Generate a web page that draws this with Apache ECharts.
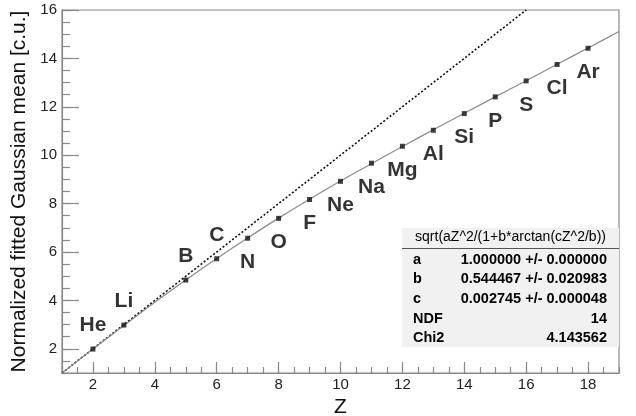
<!DOCTYPE html>
<html>
<head>
<meta charset="utf-8">
<script src="https://cdn.jsdelivr.net/npm/echarts@6/dist/echarts.min.js"></script>
<style>
  html, body { margin: 0; padding: 0; background: #ffffff; }
  #chart { width: 636px; height: 416px; }
</style>
</head>
<body>
<div id="chart"></div>
<script>
// Measured Gaussian means per element
const elements = ['He', 'Li', 'B', 'C', 'N', 'O', 'F', 'Ne', 'Na', 'Mg', 'Al', 'Si', 'P', 'S', 'Cl', 'Ar'];
const charges  = [2, 3, 5, 6, 7, 8, 9, 10, 11, 12, 13, 14, 15, 16, 17, 18];
const means    = [1.99, 2.98, 4.84, 5.72, 6.57, 7.39, 8.17, 8.92, 9.67, 10.37, 11.03, 11.72, 12.41, 13.07, 13.75, 14.42];

// Fitted curve sqrt(aZ^2/(1+b*arctan(cZ^2/b))) sampled at integer Z
const fitZ = [1, 2, 3, 4, 5, 6, 7, 8, 9, 10, 11, 12, 13, 14, 15, 16, 17, 18, 19];
const fitY = [1.00, 1.99, 2.96, 3.92, 4.84, 5.73, 6.58, 7.40, 8.18, 8.93, 9.65, 10.36, 11.05, 11.73, 12.41, 13.08, 13.76, 14.43, 15.11];

// Reference line y = Z
const diagZ = [1, 16];
const diagY = [1, 16];

// Axis tick labels
const xTicks = [2, 4, 6, 8, 10, 12, 14, 16, 18];
const yTicks = [2, 4, 6, 8, 10, 12, 14, 16];

// Fit statistics box
const statTitle = 'sqrt(aZ^2/(1+b*arctan(cZ^2/b))';
const statNames = ['a', 'b', 'c', 'NDF', 'Chi2'];
const statValues = ['1.000000 +/- 0.000000', '0.544467 +/- 0.020983', '0.002745 +/- 0.000048', '14', '4.143562'];

const FONT = '"Liberation Sans", Arial, Helvetica, sans-serif';
const AXIS_GRAY = '#8a8a8a';

const chart = echarts.init(document.getElementById('chart'), null, { renderer: 'canvas' });

function minorAxis(min, max, len, extra) {
  return Object.assign({
    type: 'value', min: min, max: max, interval: 0.5,
    axisLine: { show: true, lineStyle: { color: AXIS_GRAY, width: 1.2 } },
    axisTick: { show: true, inside: true, length: len, lineStyle: { color: AXIS_GRAY, width: 1.2 } },
    splitLine: { show: false },
    axisLabel: { show: false }
  }, extra || {});
}

// Light elements get their name above the point, heavier ones below
const pointData = charges.map((z, i) => ({
  value: [z, means[i]],
  name: elements[i],
  label: { offset: [0, z <= 6 ? -24 : 24] }
}));

const statGraphics = [];
const boxL = 402, boxR = 619, boxT = 228, boxB = 347;
statGraphics.push({ type: 'rect', shape: { x: boxL, y: boxT, width: boxR - boxL, height: boxB - boxT }, style: { fill: '#f1f1f1' }, z: 10 });
statGraphics.push({ type: 'line', shape: { x1: boxL, y1: 248.5, x2: boxR, y2: 248.5 }, style: { stroke: '#555', lineWidth: 1 }, z: 11 });
statGraphics.push({ type: 'text', x: (boxL + boxR) / 2, y: 237, style: { text: statTitle, font: '14px ' + FONT, fill: '#000', align: 'center', verticalAlign: 'middle' }, z: 11 });
statNames.forEach((n, i) => {
  const y = 259.5 + i * 19.7;
  statGraphics.push({ type: 'text', x: 413, y: y, style: { text: n, font: 'bold 14.5px ' + FONT, fill: '#000', align: 'left', verticalAlign: 'middle' }, z: 11 });
  statGraphics.push({ type: 'text', x: 607, y: y, style: { text: statValues[i], font: 'bold 14.5px ' + FONT, fill: '#000', align: 'right', verticalAlign: 'middle' }, z: 11 });
});

chart.setOption({
  animation: false,
  backgroundColor: '#ffffff',
  grid: {
    left: 62, right: 17, top: 10, bottom: 43,
    show: true, borderColor: AXIS_GRAY, borderWidth: 1.2, backgroundColor: 'transparent',
    outerBoundsMode: 'none'
  },
  xAxis: [
    minorAxis(1, 19, 6, {
      name: 'Z', nameLocation: 'middle', nameGap: 22,
      nameTextStyle: { fontFamily: FONT, fontSize: 21, color: '#111' },
      axisLabel: { show: true, customValues: xTicks, margin: 4, fontFamily: FONT, fontSize: 15, color: '#222' }
    }),
    {
      type: 'value', min: 1, max: 19, position: 'bottom',
      axisLine: { show: false }, splitLine: { show: false }, axisLabel: { show: false },
      axisTick: { show: true, inside: true, length: 11, customValues: xTicks, lineStyle: { color: AXIS_GRAY, width: 1.2 } }
    }
  ],
  yAxis: [
    minorAxis(1, 16, 8, {
      name: 'Normalized fitted Gaussian mean [c.u.]', nameLocation: 'middle', nameGap: 26,
      nameTextStyle: { fontFamily: FONT, fontSize: 21, color: '#111' },
      axisLabel: { show: true, customValues: yTicks, margin: 5, fontFamily: FONT, fontSize: 15, color: '#222' }
    }),
    {
      type: 'value', min: 1, max: 16, position: 'left',
      axisLine: { show: false }, splitLine: { show: false }, axisLabel: { show: false },
      axisTick: { show: true, inside: true, length: 17, customValues: yTicks, lineStyle: { color: AXIS_GRAY, width: 1.2 } }
    }
  ],
  series: [
    {
      type: 'line', name: 'Z = mean', xAxisIndex: 0, yAxisIndex: 0,
      data: diagZ.map((z, i) => [z, diagY[i]]),
      symbol: 'none', silent: true,
      lineStyle: { color: '#111', width: 1.6, type: [2, 2] },
      z: 3
    },
    {
      type: 'line', name: 'fit', xAxisIndex: 0, yAxisIndex: 0,
      data: fitZ.map((z, i) => [z, fitY[i]]),
      symbol: 'none', smooth: 0.3, silent: true,
      lineStyle: { color: '#8c8c8c', width: 1.2 },
      z: 4
    },
    {
      type: 'scatter', name: 'mean', xAxisIndex: 0, yAxisIndex: 0,
      data: pointData,
      symbol: 'rect', symbolSize: 5,
      itemStyle: { color: '#111' },
      label: {
        show: true, position: 'inside', formatter: '{b}',
        fontFamily: FONT, fontSize: 21, fontWeight: 'bold', color: '#000',
        align: 'center', verticalAlign: 'middle'
      },
      z: 5
    }
  ],
  graphic: statGraphics
});
</script>
</body>
</html>
